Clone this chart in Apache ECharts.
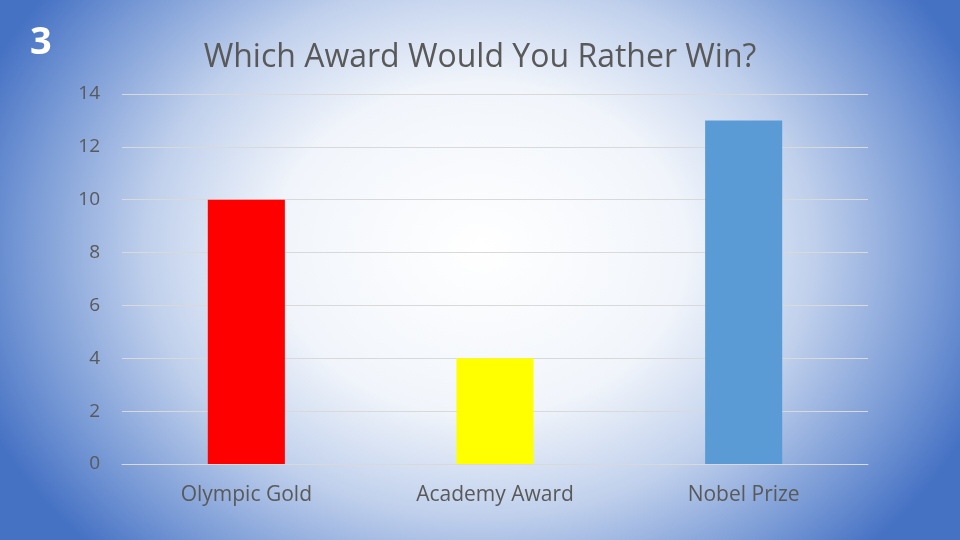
<!DOCTYPE html>
<html><head><meta charset="utf-8">
<script src="https://cdn.jsdelivr.net/npm/echarts@6/dist/echarts.min.js"></script>
<style>
html,body{margin:0;padding:0;width:960px;height:540px;overflow:hidden;}
body{background:radial-gradient(ellipse 56% 80% at 50% 46%, #ffffff 0%, #f1f5fb 38%, #c0d0ec 62%, #7a9bd6 84%, #4672c4 100%);}
#c{width:960px;height:540px;}
</style></head><body>
<div id="c"></div>
<script>
const categories = ["Olympic Gold", "Academy Award", "Nobel Prize"];
const values = [10, 4, 13];
const barColors = ["#ff0000", "#ffff00", "#5b9bd5"];
const chart = echarts.init(document.getElementById('c'), null, {renderer:'canvas'});
chart.setOption({
  backgroundColor: 'transparent',
  animation: false,
  title: [
    {text: 'Which Award Would You Rather Win?', left: 475, top: 37, textAlign: 'center',
     textStyle: {fontFamily: 'Open Sans', fontWeight: 'normal', fontSize: 32, color: '#595959'}},
    {text: '3', left: 25, top: 19,
     textStyle: {fontFamily: 'Open Sans', fontWeight: 'bold', fontSize: 38, color: '#ffffff'}}
  ],
  grid: {left: 122, right: 92, top: 94, bottom: 76},
  xAxis: {
    type: 'category', data: categories,
    axisLine: {show: true, lineStyle: {color: '#d9d9d9'}},
    axisTick: {show: false},
    axisLabel: {fontFamily: 'Open Sans', fontSize: 21, color: '#595959', margin: 21}
  },
  yAxis: {
    type: 'value', min: 0, max: 14, interval: 2,
    axisLine: {show: false}, axisTick: {show: false},
    splitLine: {lineStyle: {color: '#d9d9d9'}},
    axisLabel: {fontFamily: 'Open Sans', fontSize: 19, color: '#595959', margin: 22}
  },
  series: [{
    type: 'bar', barWidth: '31%',
    data: values.map((v, i) => ({value: v, itemStyle: {color: barColors[i]}}))
  }]
});
</script>
</body></html>
